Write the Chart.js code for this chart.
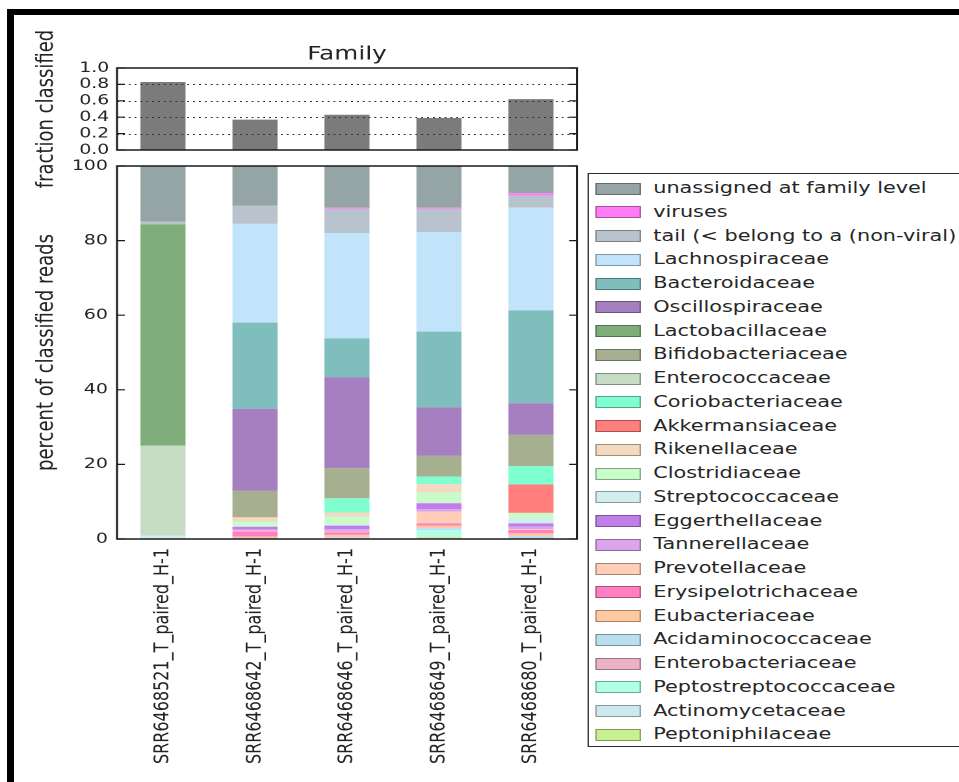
<!DOCTYPE html>
<html>
<head>
<meta charset="utf-8">
<script src="https://cdn.jsdelivr.net/npm/chart.js@4.4.1/dist/chart.umd.min.js"></script>
<style>
  html, body { margin: 0; padding: 0; background: #fff; overflow: hidden; width: 959px; height: 782px; }
  #frame { position: absolute; left: 7px; top: 9px; width: 2000px; height: 2000px;
           border-left: 7px solid #000; border-top: 6px solid #000; }
  /* the original figure is stretched sideways, so draw narrow and scale */
  #fig { position: absolute; left: 0; top: 0; width: 738px; height: 782px;
         transform: scaleX(1.3); transform-origin: 0 0; }
  #fig canvas { position: absolute; left: 0; }
  #legend { position: absolute; left: 451.5px; top: 173px; width: 600px; height: 574px;
            border: 1.5px solid #2a2a2a; box-sizing: border-box; background: #fff;
            font-family: 'DejaVu Sans', sans-serif; font-size: 16px; color: #262626; }
  .row { position: absolute; left: 0; height: 20px; line-height: 20px; white-space: nowrap; }
  .sw { position: absolute; left: 5px; top: 4.5px; width: 33px; height: 10px;
        border: 1px solid rgba(0,0,0,0.35); }
  .lb { position: absolute; left: 50px; top: 0; }
</style>
</head>
<body>
<div id="frame"></div>
<div id="fig">
  <canvas id="bottomChart" width="470" height="632" style="top:150px"></canvas>
  <canvas id="topChart" width="470" height="200" style="top:0"></canvas>
  <div id="legend"></div>
</div>
<script>
// samples and fraction of reads classified
const samples = [
  'SRR6468521_T_paired_H-1', 'SRR6468642_T_paired_H-1', 'SRR6468646_T_paired_H-1',
  'SRR6468649_T_paired_H-1', 'SRR6468680_T_paired_H-1'
];
const fractionClassified = [0.83, 0.37, 0.43, 0.39, 0.62];
const fractionTicks = [0, 0.2, 0.4, 0.6, 0.8, 1.0];
const percentTicks = [0, 20, 40, 60, 80, 100];

// families, in legend order (top of the stack first)
const families = [
  'unassigned at family level', 'viruses', 'tail (< belong to a (non-viral)',
  'Lachnospiraceae', 'Bacteroidaceae', 'Oscillospiraceae', 'Lactobacillaceae',
  'Bifidobacteriaceae', 'Enterococcaceae', 'Coriobacteriaceae', 'Akkermansiaceae',
  'Rikenellaceae', 'Clostridiaceae', 'Streptococcaceae', 'Eggerthellaceae',
  'Tannerellaceae', 'Prevotellaceae', 'Erysipelotrichaceae', 'Eubacteriaceae',
  'Acidaminococcaceae', 'Enterobacteriaceae', 'Peptostreptococcaceae',
  'Actinomycetaceae', 'Peptoniphilaceae'
];

// percent of classified reads, one value per sample
const unassigned          = [14.9, 10.6, 11.2, 11.2, 7.3];
const viruses             = [0, 0, 0.3, 0.3, 0.6];
const tail                = [0.7, 4.9, 6.5, 6.2, 3.3];
const lachnospiraceae     = [0, 26.5, 28.2, 26.7, 27.5];
const bacteroidaceae      = [0, 23.1, 10.4, 20.3, 24.9];
const oscillospiraceae    = [0, 22.0, 24.4, 13.0, 8.5];
const lactobacillaceae    = [59.4, 0, 0, 0, 0];
const bifidobacteriaceae  = [0, 7.1, 8.1, 5.6, 8.4];
const enterococcaceae     = [24.1, 0, 0, 0, 0];
const coriobacteriaceae   = [0, 0, 3.8, 2.0, 4.9];
const akkermansiaceae     = [0, 0, 0, 0, 7.6];
const rikenellaceae       = [0, 1.1, 1.1, 2.3, 0.1];
const clostridiaceae      = [0, 1.1, 2.0, 2.5, 1.4];
const streptococcaceae    = [0.9, 0.3, 0.4, 0.3, 1.3];
const eggerthellaceae     = [0, 0.8, 1.0, 1.6, 0.9];
const tannerellaceae      = [0, 0.3, 0.6, 0.7, 0.7];
const prevotellaceae      = [0, 0.2, 0.2, 3.1, 0.2];
const erysipelotrichaceae = [0, 1.4, 0.7, 0.6, 0.9];
const eubacteriaceae      = [0, 0.2, 0.6, 0.7, 0.7];
const acidaminococcaceae  = [0, 0.1, 0.2, 0.5, 0.6];
const enterobacteriaceae  = [0, 0.2, 0.1, 0, 0.1];
const peptostreptococcaceae = [0, 0.1, 0.2, 1.7, 0];
const actinomycetaceae    = [0, 0, 0, 0.2, 0.1];
const peptoniphilaceae    = [0, 0, 0, 0.5, 0];

const familyValues = [
  unassigned, viruses, tail, lachnospiraceae, bacteroidaceae, oscillospiraceae,
  lactobacillaceae, bifidobacteriaceae, enterococcaceae, coriobacteriaceae,
  akkermansiaceae, rikenellaceae, clostridiaceae, streptococcaceae, eggerthellaceae,
  tannerellaceae, prevotellaceae, erysipelotrichaceae, eubacteriaceae,
  acidaminococcaceae, enterobacteriaceae, peptostreptococcaceae, actinomycetaceae,
  peptoniphilaceae
];

const familyColors = [
  '#95a5a6', '#ff7cf5', '#b9c3ce', '#c2e4fa', '#80bdbd', '#a57fc0', '#7fae7a',
  '#a6b091', '#c6dcc4', '#7fffd0', '#ff7f7f', '#f2d9bf', '#c8fcc8', '#d2eef0',
  '#c07fe8', '#dca4ec', '#ffcdb8', '#ff7fbf', '#ffc8a0', '#b8e0f0', '#eab2c4',
  '#b0ffe8', '#cde8ee', '#c8f090'
];

Chart.defaults.font.family = "'DejaVu Sans', sans-serif";
Chart.defaults.color = '#222';

// box around the plot, inward ticks, dotted grid drawn over the bars
const frameBox = {
  id: 'frameBox',
  afterDatasetsDraw(chart, args, opts) {
    const { ctx, chartArea: a, scales: { y } } = chart;
    ctx.save();
    if (opts.dotted) {
      ctx.setLineDash([1.5, 3]);
      ctx.strokeStyle = '#333';
      ctx.lineWidth = 1;
      y.ticks.forEach(t => {
        if (t.value <= y.min || t.value >= y.max) return;
        const py = Math.round(y.getPixelForValue(t.value)) + 0.5;
        ctx.beginPath();
        ctx.moveTo(a.left, py);
        ctx.lineTo(a.right, py);
        ctx.stroke();
      });
      ctx.setLineDash([]);
    }
    ctx.strokeStyle = '#1a1a1a';
    ctx.lineWidth = 1.5;
    ctx.strokeRect(a.left, a.top, a.right - a.left, a.bottom - a.top);
    ctx.lineWidth = 1.2;
    y.ticks.forEach(t => {
      const py = y.getPixelForValue(t.value);
      ctx.beginPath();
      ctx.moveTo(a.left, py); ctx.lineTo(a.left + 6, py);
      ctx.moveTo(a.right, py); ctx.lineTo(a.right - 6, py);
      ctx.stroke();
    });
    ctx.restore();
  }
};

const yTitle = text => ({
  display: true, text: text, color: '#222',
  font: { size: 18 }, padding: { top: 4, bottom: 0 }
});

// no tick marks outside, the frame plugin draws them inside
const noGrid = { display: false, drawTicks: false, tickLength: 0 };

// === fraction classified ===
new Chart(document.getElementById('topChart'), {
  type: 'bar',
  data: {
    labels: samples,
    datasets: [{
      data: fractionClassified,
      backgroundColor: '#7b7b7b',
      barPercentage: 0.49,
      categoryPercentage: 1.0
    }]
  },
  options: {
    responsive: false,
    devicePixelRatio: 2,
    animation: false,
    layout: { padding: { left: 21, right: 26.2, top: 45, bottom: 50 } },
    scales: {
      x: { display: false },
      y: {
        min: 0, max: 1,
        afterFit: s => { s.width = 69; },
        afterBuildTicks: s => { s.ticks = fractionTicks.map(v => ({ value: v })); },
        grid: noGrid,
        border: { display: false },
        ticks: {
          autoSkip: false, padding: 6, color: '#222',
          font: { size: 14.5, lineHeight: 1 },
          callback: v => Number(v).toFixed(1)
        },
        title: yTitle('fraction classified')
      }
    },
    plugins: {
      legend: { display: false },
      tooltip: { enabled: false },
      title: {
        display: true, text: 'Family', fullSize: false, color: '#222',
        font: { size: 19, weight: 'normal', lineHeight: 1 },
        padding: { top: 0, bottom: 4 }
      },
      frameBox: { dotted: true }
    }
  },
  plugins: [frameBox]
});

// === percent of classified reads ===
const datasets = families.map((f, i) => ({
  label: f,
  data: familyValues[i],
  backgroundColor: familyColors[i],
  borderWidth: 0,
  barPercentage: 0.49,
  categoryPercentage: 1.0
})).reverse();

new Chart(document.getElementById('bottomChart'), {
  type: 'bar',
  data: { labels: samples, datasets: datasets },
  options: {
    responsive: false,
    devicePixelRatio: 2,
    animation: false,
    layout: { padding: { left: 21, right: 26.2, top: 16, bottom: 0 } },
    scales: {
      x: {
        stacked: true,
        afterFit: s => { s.height = 243; },
        grid: noGrid,
        border: { display: false },
        ticks: { minRotation: 90, maxRotation: 90, padding: 9, color: '#222', font: { size: 16 } }
      },
      y: {
        stacked: true,
        min: 0, max: 100,
        afterFit: s => { s.width = 69; },
        afterBuildTicks: s => { s.ticks = percentTicks.map(v => ({ value: v })); },
        grid: noGrid,
        border: { display: false },
        ticks: { autoSkip: false, padding: 7, color: '#222', font: { size: 14.5 } },
        title: yTitle('percent of classified reads')
      }
    },
    plugins: {
      legend: { display: false },
      tooltip: { enabled: false },
      frameBox: { dotted: false }
    }
  },
  plugins: [frameBox]
});

// legend on the right, same order as the families list
const legendBox = document.getElementById('legend');
families.forEach((f, i) => {
  const row = document.createElement('div');
  row.className = 'row';
  row.style.top = (4.2 + i * 23.75) + 'px';
  const sw = document.createElement('span');
  sw.className = 'sw';
  sw.style.background = familyColors[i];
  const lb = document.createElement('span');
  lb.className = 'lb';
  lb.textContent = f;
  row.appendChild(sw);
  row.appendChild(lb);
  legendBox.appendChild(row);
});
</script>
</body>
</html>
